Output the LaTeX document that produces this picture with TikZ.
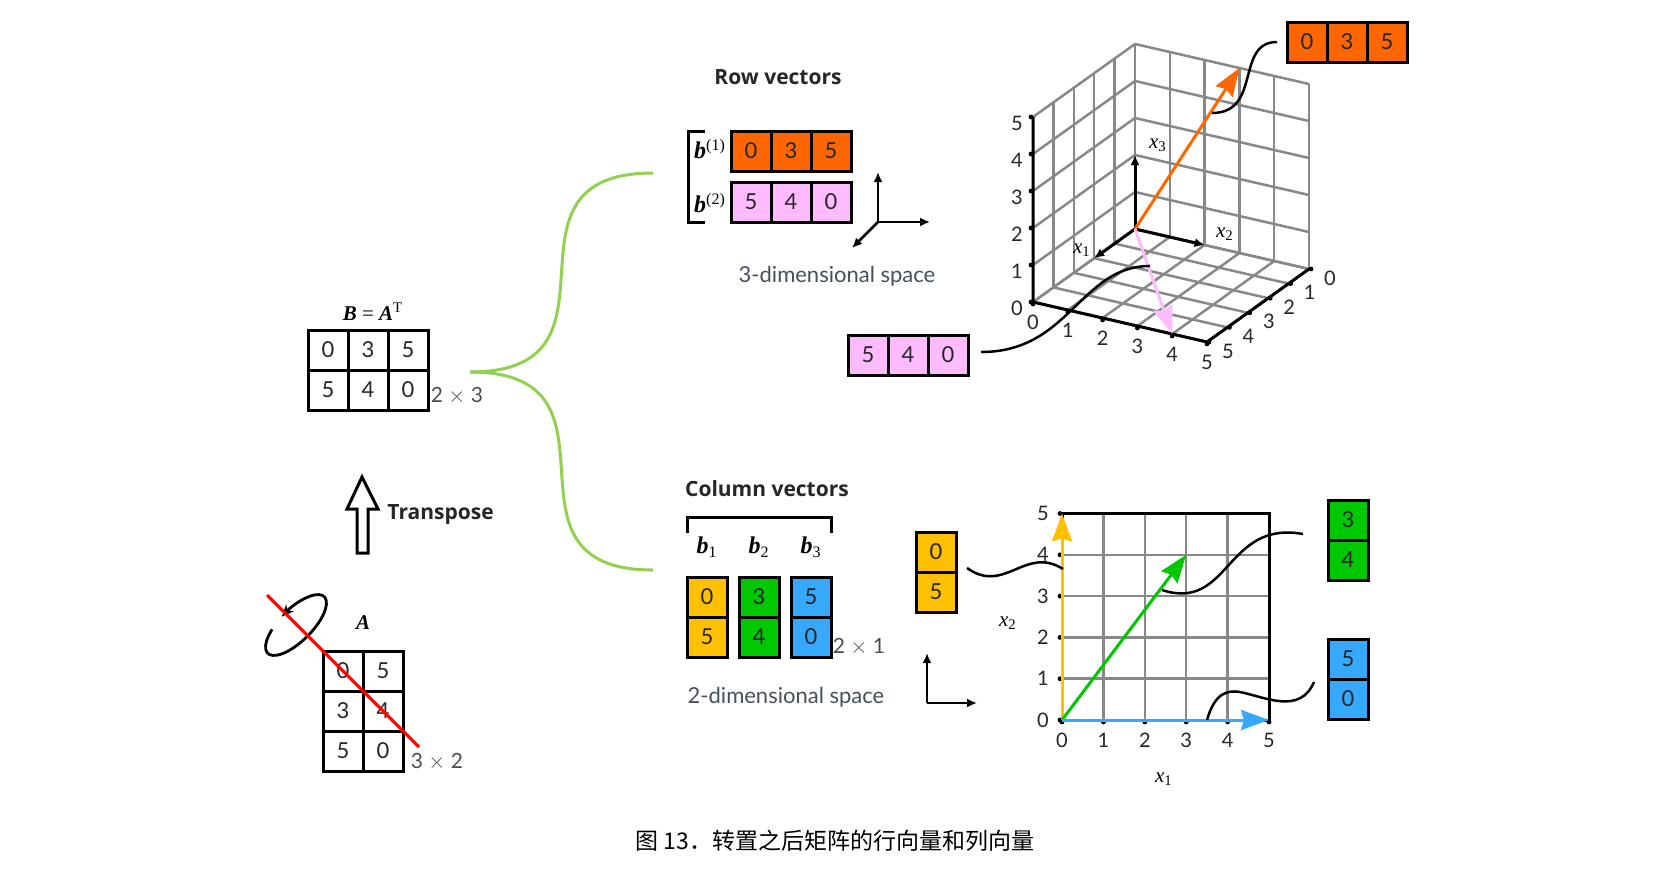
\documentclass[tikz,border=0pt]{standalone}
\usepackage{fontspec}
\setmainfont{Lato}
\newfontfamily\serif{Liberation Serif}
\newfontfamily\ttlfont{Open Sans}
\newfontfamily\cjk{Noto Sans CJK SC}
\usetikzlibrary{arrows.meta}
\definecolor{orng}{HTML}{FF6600}
\definecolor{pnk}{HTML}{FFBBFF}
\definecolor{ylw}{HTML}{FFC000}
\definecolor{grn}{HTML}{00C800}
\definecolor{blu}{HTML}{36A9FF}
\definecolor{lgrn}{HTML}{92D050}
\definecolor{gridc}{HTML}{888888}
\definecolor{txtc}{HTML}{262626}
\definecolor{spc}{HTML}{46505A}
\begin{document}
\begin{tikzpicture}[x=0.5pt,y=-0.5pt,
  cell/.style={draw=black,line width=1.5pt,minimum width=20pt,minimum height=20pt,inner sep=0pt,text=txtc,font=\fontsize{11}{13}\selectfont},
  lbl/.style={inner sep=0pt,text=txtc,font=\fontsize{10}{12}\selectfont},
  ttl/.style={inner sep=0pt,text=txtc,font=\ttlfont\fontsize{10.5}{12}\selectfont\bfseries},
  dims/.style={inner sep=0pt,text=black!70,font=\fontsize{10.5}{12}\selectfont},
  spacelbl/.style={inner sep=0pt,text=spc,font=\fontsize{11}{13}\selectfont},
  mth/.style={inner sep=0pt,font=\serif\fontsize{10.5}{12}\selectfont},
  bmth/.style={inner sep=0pt,font=\serif\fontsize{12}{14}\selectfont},
  edgeline/.style={line width=1.5pt},
  gl/.style={gridc,line width=1.25pt},
  vec/.style={line width=1.5pt,-{Stealth[length=14pt,width=10pt,inset=1.5pt]}},
  ax/.style={line width=1.25pt,-{Latex[length=5pt,width=4.5pt]}},
  wave/.style={line width=1.25pt,black},
  gcurve/.style={lgrn,line width=1.5pt}
]
\useasboundingbox (0,0) rectangle (1666,885);

% ---------- Matrix A ----------
\node[mth] (Alab) at (363,623) {\textbf{\textit{A}}};
\node[cell] (a11) at (343,671) {0};
\node[cell] (a12) at (383,671) {5};
\node[cell] (a21) at (343,711) {3};
\node[cell] (a22) at (383,711) {4};
\node[cell] (a31) at (343,751) {5};
\node[cell] (a32) at (383,751) {0};
\node[dims] (Adim) at (437,762) {3 $\times$ 2};

% rotation ellipse and red diagonal
\begin{scope}[shift={(296,625)},rotate=45]
  \draw[line width=1.4pt,-{Stealth[length=6pt,width=5pt]}] (120:20pt and 8pt) arc[start angle=120,end angle=456,x radius=20pt,y radius=8pt];
\end{scope}
\coordinate (r1) at (267,595);
\coordinate (r2) at (419,747);
\draw[red,line width=1.5pt] (r1) -- (r2);

% ---------- Transpose arrow ----------
\draw[line width=1.5pt,fill=white] (362,477) -- (378,509) -- (368,509) -- (368,553) -- (357,553) -- (357,509) -- (347,509) -- cycle;
\node[ttl,anchor=west] (tr) at (387,515) {Transpose};

% ---------- Matrix B ----------
\node[mth] (Blab) at (373,312) {\textbf{\textit{B}} = \textbf{\textit{A}}\textsuperscript{T}};
\node[cell] (b11) at (328,350) {0};
\node[cell] (b12) at (368,350) {3};
\node[cell] (b13) at (408,350) {5};
\node[cell] (b21) at (328,390) {5};
\node[cell] (b22) at (368,390) {4};
\node[cell] (b23) at (408,390) {0};
\node[dims] (Bdim) at (457,396) {2 $\times$ 3};

% ---------- green branches ----------
\coordinate (gs) at (470,372);
\coordinate (gr) at (653,173);
\coordinate (gc) at (653,570);
\draw[gcurve] (gs) .. controls (640,372) and (483,173) .. (gr);
\draw[gcurve] (gs) .. controls (640,372) and (483,570) .. (gc);

% ---------- Row vectors ----------
\node[ttl] (rowt) at (778,77) {Row vectors};
\draw[edgeline] (705,131) -- (688,131) -- (688,222) -- (705,222);
\node[bmth] (bb1) at (710,149) {\textbf{\textit{b}}\textsuperscript{(1)}};
\node[bmth] (bb2) at (710,203) {\textbf{\textit{b}}\textsuperscript{(2)}};
\node[cell,fill=orng] (o1) at (751,151) {0};
\node[cell,fill=orng] (o2) at (791,151) {3};
\node[cell,fill=orng] (o3) at (831,151) {5};
\node[cell,fill=pnk] (p1) at (751,202) {5};
\node[cell,fill=pnk] (p2) at (791,202) {4};
\node[cell,fill=pnk] (p3) at (831,202) {0};
\coordinate (m3o) at (878,222);
\coordinate (m3a) at (878,172);
\coordinate (m3b) at (930,222);
\coordinate (m3c) at (852,248);
\draw[ax] (m3o) -- (m3a);
\draw[ax] (m3o) -- (m3b);
\draw[ax] (m3o) -- (m3c);
\node[spacelbl] (sp3) at (837,276) {3-dimensional space};

% ---------- 3D cube ----------
\begin{scope}[shift={(1135,229)},x={(-10.2pt,-7.3pt)},y={(17.4pt,-4pt)},z={(0pt,18.5pt)}]
  \foreach \i in {0,...,5}{
    \draw[gl] (\i,0,0) -- (\i,0,5);
    \draw[gl] (0,0,\i) -- (5,0,\i);
    \draw[gl] (0,\i,0) -- (0,\i,5);
    \draw[gl] (0,0,\i) -- (0,5,\i);
    \draw[gl] (\i,0,0) -- (\i,5,0);
    \draw[gl] (0,\i,0) -- (5,\i,0);
  }
  \draw[edgeline] (5,0,5) -- (5,0,0) -- (5,5,0) -- (0,5,0);
  \foreach \k in {0,...,5}{
    \fill ([xshift=-1pt]5,0,\k) circle[radius=1.2pt];
    \fill ([yshift=-1pt]5,\k,0) circle[radius=1.2pt];
    \fill ([xshift=1pt]\k,5,0) circle[radius=1.2pt];
    \node[lbl] at ([xshift=-8pt,yshift=-3pt]5,0,\k) {\k};
    \node[lbl] at ([yshift=-10pt]5,\k,0) {\k};
    \node[lbl] at ([xshift=10.5pt,yshift=-4.5pt]\k,5,0) {\k};
  }
  \coordinate (O3) at (0,0,0);
  \coordinate (X1) at (2,0,0);
  \coordinate (X2) at (0,2,0);
  \coordinate (X3) at (0,0,2);
  \coordinate (V1) at (0,3,5);
  \coordinate (V2) at (5,4,0);
\end{scope}
\draw[ax,line width=1.5pt] (O3) -- (X1);
\draw[ax,line width=1.5pt] (O3) -- (X2);
\draw[ax,line width=1.5pt] (O3) -- (X3);
\node[mth] (lx1) at (1082,250) {\textit{x}\textsubscript{1}};
\node[mth] (lx2) at (1225,234) {\textit{x}\textsubscript{2}};
\node[mth] (lx3) at (1158,145) {\textit{x}\textsubscript{3}};
\draw[vec,orng] (O3) -- (V1);
\draw[vec,pnk] (O3) -- (V2);

% row boxes near cube
\node[cell,fill=orng] (ro1) at (1307,42) {0};
\node[cell,fill=orng] (ro2) at (1347,42) {3};
\node[cell,fill=orng] (ro3) at (1387,42) {5};
\node[cell,fill=pnk] (rp1) at (868,355) {5};
\node[cell,fill=pnk] (rp2) at (908,355) {4};
\node[cell,fill=pnk] (rp3) at (948,355) {0};
\coordinate (w1s) at (1277,42);
\coordinate (w1e) at (1212,113);
\draw[wave] (w1s) .. controls (1235,42) and (1262,113) .. (w1e);
\coordinate (w2s) at (981,352);
\coordinate (w2e) at (1150,266);
\draw[wave] (w2s) .. controls (1070,352) and (1080,266) .. (w2e);

% ---------- Column vectors ----------
\node[ttl] (colt) at (767,489) {Column vectors};
\draw[edgeline] (687,533) -- (687,517) -- (831,517) -- (831,533);
\node[bmth] (cb1) at (707,547) {\textbf{\textit{b}}\textsubscript{1}};
\node[bmth] (cb2) at (759,547) {\textbf{\textit{b}}\textsubscript{2}};
\node[bmth] (cb3) at (811,547) {\textbf{\textit{b}}\textsubscript{3}};
\node[cell,fill=ylw] (y1) at (707,597) {0};
\node[cell,fill=ylw] (y2) at (707,637) {5};
\node[cell,fill=grn] (g1) at (759,597) {3};
\node[cell,fill=grn] (g2) at (759,637) {4};
\node[cell,fill=blu] (u1) at (811,597) {5};
\node[cell,fill=blu] (u2) at (811,637) {0};
\node[dims] (Cdim) at (859,647) {2 $\times$ 1};
\node[spacelbl] (sp2) at (786,697) {2-dimensional space};
\coordinate (m2o) at (927,703);
\coordinate (m2a) at (927,653);
\coordinate (m2b) at (977,703);
\draw[ax] (m2o) -- (m2a);
\draw[ax] (m2o) -- (m2b);

% ---------- 2D grid ----------
\begin{scope}[shift={(1062,720)},x=20.7pt,y=20.65pt]
  \foreach \i in {1,...,4}{
    \draw[gl] (\i,0) -- (\i,5);
    \draw[gl] (0,\i) -- (5,\i);
  }
  \draw[edgeline] (0,0) rectangle (5,5);
  \foreach \i in {0,...,5}{
    \fill ([xshift=-1pt]0,\i) circle[radius=1.2pt];
    \fill ([yshift=-1pt]\i,0) circle[radius=1.2pt];
    \node[lbl] at ([xshift=-9.5pt]0,\i) {\i};
    \node[lbl] at ([yshift=-10pt]\i,0) {\i};
  }
  \coordinate (P0) at (0,0);
  \coordinate (PY) at (0,5);
  \coordinate (PG) at (3,4);
  \coordinate (PB) at (5,0);
\end{scope}
\draw[vec,ylw] (P0) -- (PY);
\draw[vec,grn] (P0) -- (PG);
\draw[vec,blu] (P0) -- (PB);
\node[mth] (q2) at (1008,623) {\textit{x}\textsubscript{2}};
\node[mth] (q1) at (1164,779) {\textit{x}\textsubscript{1}};

% column boxes near grid
\node[cell,fill=ylw] (sy1) at (936,552) {0};
\node[cell,fill=ylw] (sy2) at (936,592) {5};
\node[cell,fill=grn] (sg1) at (1348,520) {3};
\node[cell,fill=grn] (sg2) at (1348,560) {4};
\node[cell,fill=blu] (su1) at (1348,659) {5};
\node[cell,fill=blu] (su2) at (1348,699) {0};
\coordinate (w3s) at (967,568);
\coordinate (w3e) at (1063,569);
\draw[wave] (w3s) .. controls (1005,595) and (1025,545) .. (w3e);
\coordinate (w4s) at (1162,590);
\coordinate (w4e) at (1303,534);
\draw[wave] (w4s) .. controls (1230,612) and (1225,520) .. (w4e);
\coordinate (w5s) at (1207,720);
\coordinate (w5m) at (1240,692);
\coordinate (w5e) at (1314,682);
\draw[wave] (w5s) .. controls (1215,692) and (1228,690) .. (w5m) .. controls (1265,697) and (1300,715) .. (w5e);

% ---------- caption ----------
\node[inner sep=0pt,font=\cjk\fontsize{11.5}{14}\selectfont] (cap) at (835,841) {图 13．转置之后矩阵的行向量和列向量};
\end{tikzpicture}
\end{document}
